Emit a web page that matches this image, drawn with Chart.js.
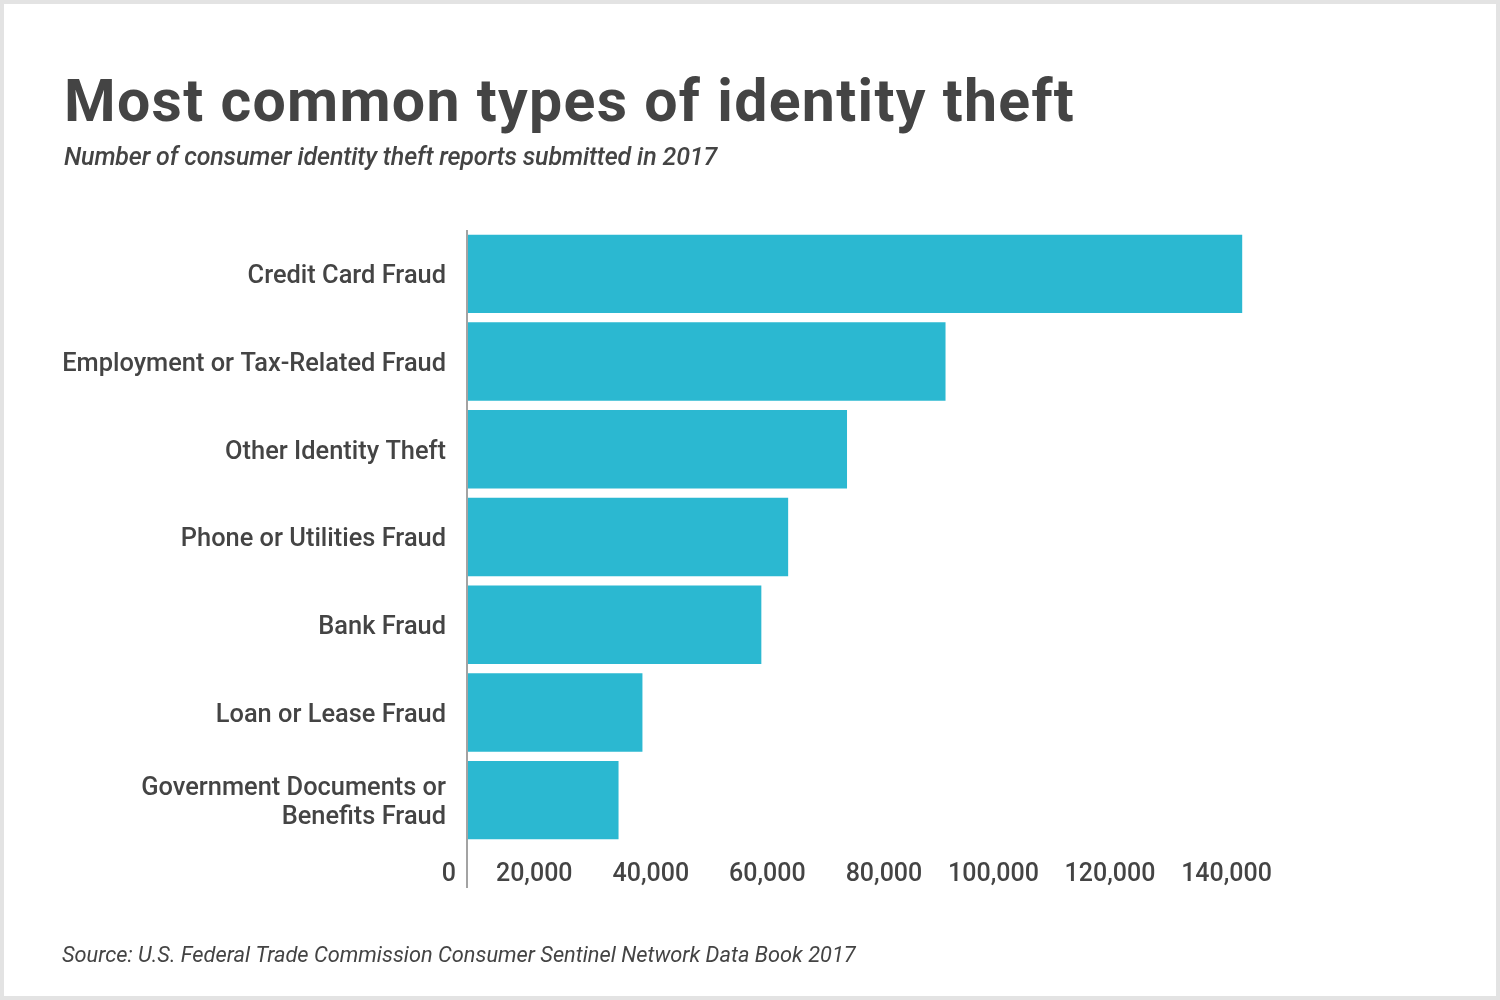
<!DOCTYPE html>
<html>
<head>
<meta charset="utf-8">
<title>Most common types of identity theft</title>
<script src="https://cdn.jsdelivr.net/npm/chart.js@4.4.1/dist/chart.umd.min.js"></script>
<style>
  html, body { margin: 0; padding: 0; background: #fff; }
  #frame { position: absolute; left: 0; top: 0; width: 1500px; height: 1000px; box-sizing: border-box; border: 4px solid #e3e3e3; pointer-events: none; }
  #chart { position: absolute; left: 0; top: 0; }
</style>
</head>
<body>
<canvas id="chart" width="1500" height="1000"></canvas>
<div id="frame"></div>
<script>
// data
const categories = [
  'Credit Card Fraud',
  'Employment or Tax-Related Fraud',
  'Other Identity Theft',
  'Phone or Utilities Fraud',
  'Bank Fraud',
  'Loan or Lease Fraud',
  ['Government Documents or', 'Benefits Fraud']
];
const reports = [133000, 82100, 65200, 55100, 50500, 30100, 26000];
const tickValues = [0, 20000, 40000, 60000, 80000, 100000, 120000, 140000];

const title = 'Most common types of identity theft';
const subtitle = 'Number of consumer identity theft reports submitted in 2017';
const source = 'Source: U.S. Federal Trade Commission Consumer Sentinel Network Data Book 2017';

const textColor = '#444444';
const barColor = '#2bb8d1';

// title, subtitle and source are painted straight onto the canvas
const headerText = {
  id: 'headerText',
  beforeDraw(chart) {
    const ctx = chart.ctx;
    ctx.save();
    ctx.fillStyle = '#ffffff';
    ctx.fillRect(0, 0, chart.width, chart.height);
    ctx.textAlign = 'left';
    ctx.textBaseline = 'alphabetic';
    ctx.fillStyle = textColor;
    ctx.font = 'bold 59px Roboto';
    ctx.letterSpacing = '1.3px';
    ctx.fillText(title, 64, 121);
    ctx.font = 'italic 500 25px Roboto';
    ctx.letterSpacing = '-0.15px';
    ctx.fillText(subtitle, 64, 165);
    ctx.letterSpacing = '0px';
    ctx.font = 'italic 21.8px Roboto';
    ctx.fillText(source, 62, 962);
    ctx.restore();
  }
};

new Chart(document.getElementById('chart'), {
  type: 'bar',
  data: {
    labels: categories,
    datasets: [{
      label: 'Reports',
      data: reports,
      backgroundColor: barColor,
      borderWidth: 0,
      barPercentage: 0.894,
      categoryPercentage: 1.0
    }]
  },
  options: {
    indexAxis: 'y',
    responsive: false,
    animation: false,
    devicePixelRatio: 1,
    layout: { padding: { left: 0, right: 217, top: 230, bottom: 76 } },
    plugins: {
      legend: { display: false },
      tooltip: { enabled: false }
    },
    scales: {
      x: {
        min: 0,
        max: 140000,
        afterBuildTicks: s => { s.ticks = tickValues.map(v => ({ value: v })); },
        afterFit: s => { s.height = 80; },
        border: { display: false },
        grid: {
          drawOnChartArea: true,
          drawTicks: true,
          tickLength: 44,
          lineWidth: 2,
          color: c => (c.tick && c.tick.value === 0) ? '#a3a3a3' : 'rgba(0,0,0,0)'
        },
        ticks: {
          align: 'end',
          labelOffset: -11,
          padding: -28,
          color: textColor,
          font: { family: 'Roboto', size: 25, weight: '500' },
          callback: v => v.toLocaleString('en-US')
        }
      },
      y: {
        afterFit: s => { s.width = 467; },
        border: { display: false },
        grid: { display: false, drawTicks: false },
        ticks: {
          padding: 21,
          labelOffset: 3,
          color: textColor,
          font: { family: 'Roboto', size: 25.4, weight: '500', lineHeight: 1.18 }
        }
      }
    }
  },
  plugins: [headerText]
});
</script>
</body>
</html>
